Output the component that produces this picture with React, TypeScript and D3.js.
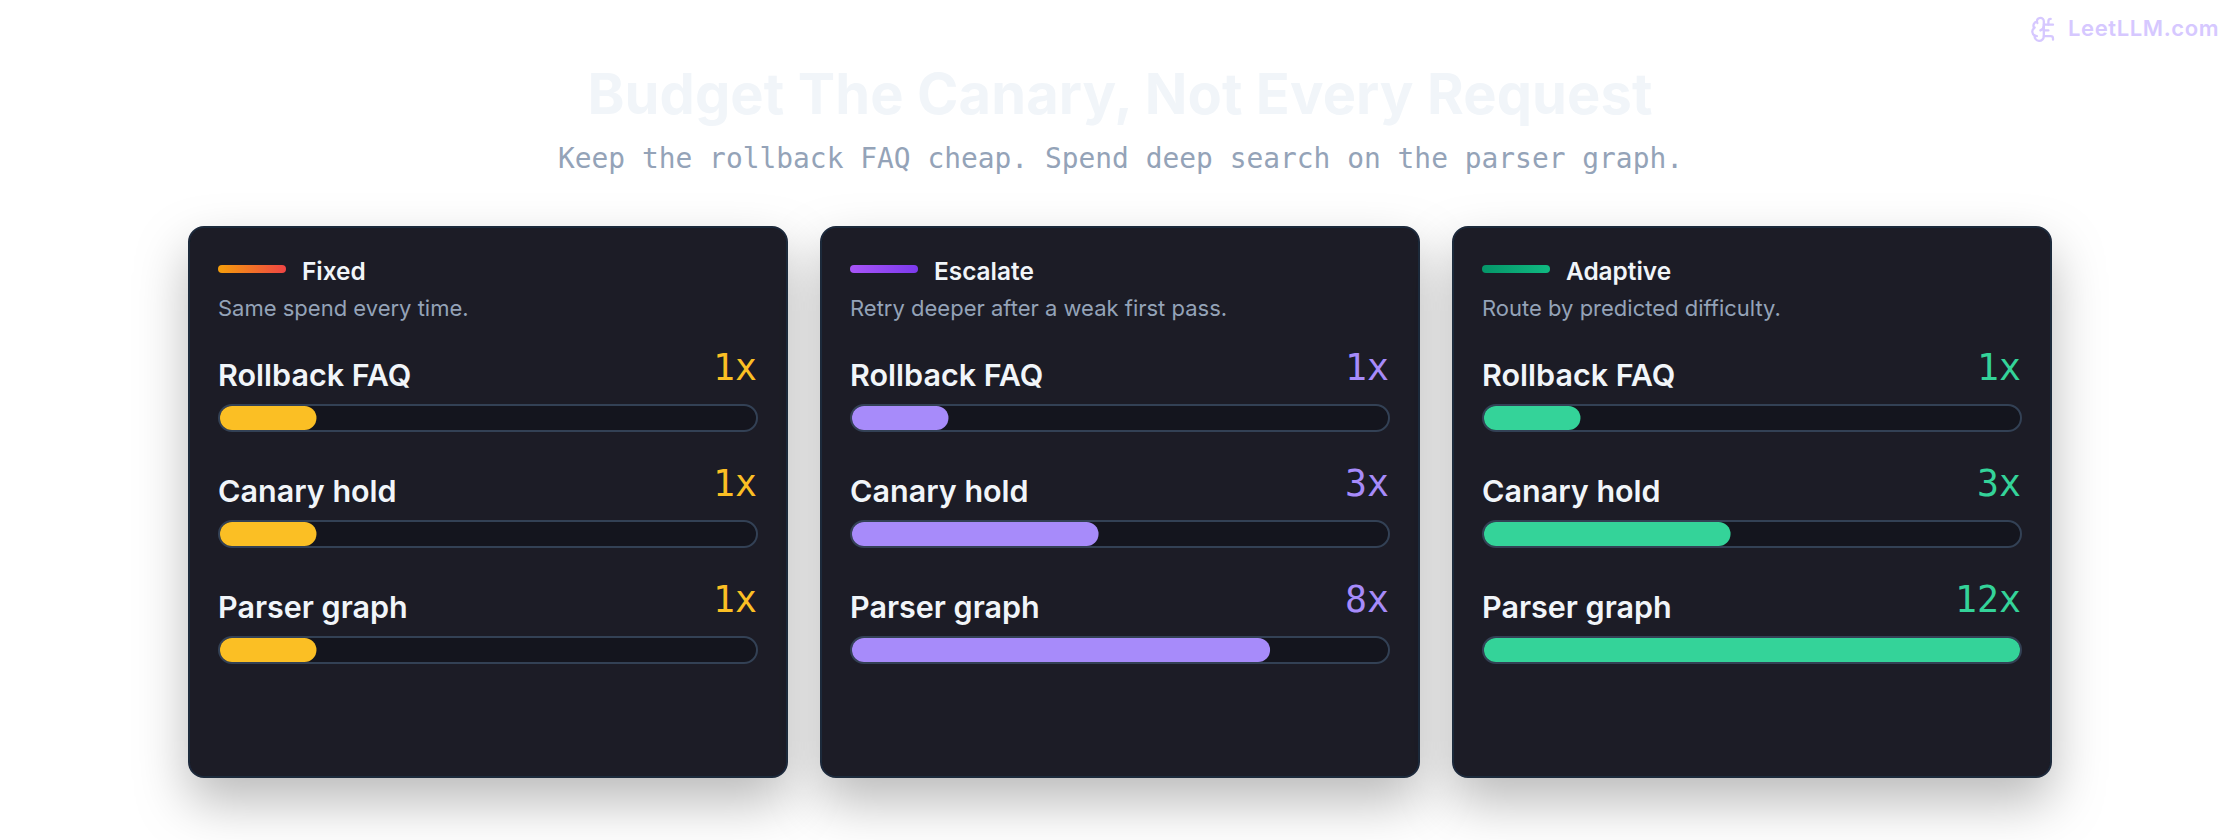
import React from "react";
import * as d3 from "d3";

const titleText = "Budget The Canary, Not Every Request";
const subtitleText = "Keep the rollback FAQ cheap. Spend deep search on the parser graph.";
const brandText = "LeetLLM.com";

const strategies = ["Fixed", "Escalate", "Adaptive"];
const descriptions = [
  "Same spend every time.",
  "Retry deeper after a weak first pass.",
  "Route by predicted difficulty.",
];
const rowLabels = ["Rollback FAQ", "Canary hold", "Parser graph"];
const fixedValues = ["1x", "1x", "1x"];
const escalateValues = ["1x", "3x", "8x"];
const adaptiveValues = ["1x", "3x", "12x"];
const fixedShare = [0.18, 0.18, 0.18];
const escalateShare = [0.18, 0.46, 0.78];
const adaptiveShare = [0.18, 0.46, 1];
const barColors = ["#fbbf24", "#a78bfa", "#34d399"];
const swatchStops = [
  ["#f59e0b", "#ef4444"],
  ["#a855f7", "#7c3aed"],
  ["#059669", "#10b981"],
];

const valuesBy = [fixedValues, escalateValues, adaptiveValues];
const sharesBy = [fixedShare, escalateShare, adaptiveShare];

const W = 2240;
const H = 840;
const cardW = 600;
const cardTop = 226;
const cardH = 552;
const cardX = d3.scaleLinear().domain([0, 1]).range([188, 820]);
const rowY = d3.scaleLinear().domain([0, 1]).range([418, 534]);
const pad = 30;
const trackW = cardW - pad * 2;
const trackH = 28;
const share = d3.scaleLinear().domain([0, 1]).range([0, trackW - 4]);
const SANS = "Inter, sans-serif";
const MONO = "'DejaVu Sans Mono', monospace";

const brainPaths = [
  "M12 5a3 3 0 1 0-5.997.125 4 4 0 0 0-2.526 5.77 4 4 0 0 0 .556 6.588A4 4 0 1 0 12 18Z",
  "M9 13a4.5 4.5 0 0 0 3-4",
  "M6.003 5.125A3 3 0 0 0 6.401 6.5",
  "M3.477 10.896a4 4 0 0 1 .585-.396",
  "M6 18a4 4 0 0 1-1.967-.516",
  "M12 13h4",
  "M12 18h6a2 2 0 0 1 2 2v1",
  "M12 8h8",
  "M16 8V5a2 2 0 0 1 2-2",
];

export default function App() {
  return (
    <svg
      width={W}
      height={H}
      viewBox={`0 0 ${W} ${H}`}
      style={{ position: "absolute", left: 0, top: 0, display: "block", background: "#fff" }}
    >
      <defs>
        <filter id="cardShadow" x="-25%" y="-25%" width="150%" height="150%">
          <feDropShadow dx="0" dy="24" stdDeviation="26" floodColor="#000" floodOpacity="0.27" />
        </filter>
        {swatchStops.map((s, i) => (
          <linearGradient key={i} id={`swatch${i}`} x1="0" x2="1" y1="0" y2="0">
            <stop offset="0" stopColor={s[0]} />
            <stop offset="1" stopColor={s[1]} />
          </linearGradient>
        ))}
      </defs>

      <text x={W / 2} y={114} textAnchor="middle" fontFamily={SANS} fontWeight={700} fontSize={56} letterSpacing={0.1} fill="#f1f5f9">
        {titleText}
      </text>
      <text x={W / 2 + 0.5} y={168} textAnchor="middle" fontFamily={MONO} fontSize={27.9} fill="#94a3b8">
        {subtitleText}
      </text>

      <g
        transform="translate(2030,15.5) scale(1.15)"
        stroke="#d6c8ff"
        strokeWidth={2}
        fill="none"
        strokeLinecap="round"
        strokeLinejoin="round"
      >
        {brainPaths.map((d) => (
          <path key={d} d={d} />
        ))}
      </g>
      <text x={2068} y={36} fontFamily={SANS} fontWeight={600} fontSize={22} letterSpacing={0.6} fill="#d6c8ff">
        {brandText}
      </text>

      {strategies.map((name, c) => {
        const x = cardX(c);
        const left = x + pad;
        const right = x + cardW - pad;
        return (
          <g key={name}>
            <rect
              x={x + 1}
              y={cardTop + 1}
              width={cardW - 2}
              height={cardH - 2}
              rx={15}
              fill="#1a1b26"
              stroke="#1e293b"
              strokeWidth={2}
              filter="url(#cardShadow)"
            />
            <rect x={left} y={265} width={68} height={8} rx={4} fill={`url(#swatch${c})`} />
            <text x={left + 84} y={280} fontFamily={SANS} fontWeight={600} fontSize={24.4} fill="#f1f5f9">
              {name}
            </text>
            <text x={left} y={316} fontFamily={SANS} fontSize={22} fill="#94a3b8">
              {descriptions[c]}
            </text>
            {rowLabels.map((label, r) => {
              const cy = rowY(r);
              return (
                <g key={label}>
                  <text x={left} y={cy - 32} fontFamily={SANS} fontWeight={600} fontSize={30.5} fill="#f1f5f9">
                    {label}
                  </text>
                  <text x={right - 1} y={cy - 38} textAnchor="end" fontFamily={MONO} fontSize={36.5} fill={barColors[c]}>
                    {valuesBy[c][r]}
                  </text>
                  <rect
                    x={left + 1}
                    y={cy - trackH / 2 + 1}
                    width={trackW - 2}
                    height={trackH - 2}
                    rx={(trackH - 2) / 2}
                    fill="#14151e"
                    stroke="#334155"
                    strokeWidth={2}
                  />
                  <rect
                    x={left + 2}
                    y={cy - trackH / 2 + 2}
                    width={share(sharesBy[c][r])}
                    height={trackH - 4}
                    rx={(trackH - 4) / 2}
                    fill={barColors[c]}
                  />
                </g>
              );
            })}
          </g>
        );
      })}
    </svg>
  );
}
